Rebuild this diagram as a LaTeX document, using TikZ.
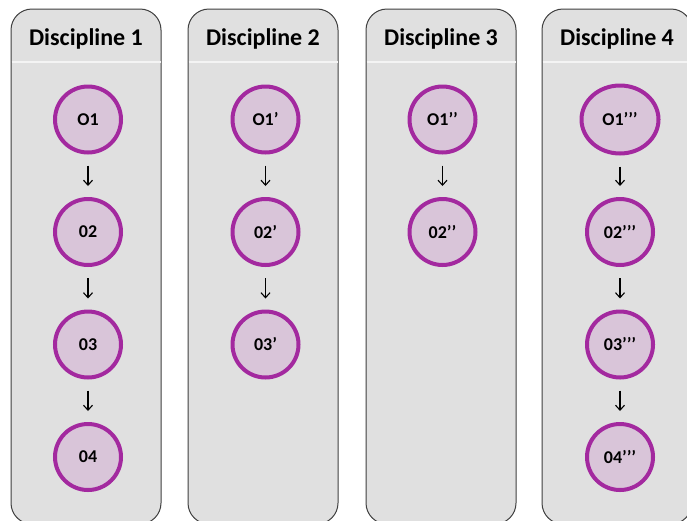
\documentclass[tikz,border=0pt]{standalone}
\usepackage{fontspec}
\setmainfont{Carlito}
\usetikzlibrary{arrows.meta,shapes.geometric}
\definecolor{boxfill}{HTML}{E0E0E0}
\definecolor{boxline}{HTML}{3F3F3F}
\definecolor{ringline}{HTML}{A3299F}
\definecolor{ringfill}{HTML}{D9C5D9}
\definecolor{sepline}{HTML}{F4F4F4}
\tikzset{
 lane/.style={fill=boxfill,draw=boxline,line width=1pt,rounded corners=21pt,minimum width=150pt,minimum height=515pt,inner sep=0pt},
 hdr/.style={font=\fontsize{24}{28}\selectfont\bfseries,anchor=base,inner sep=0pt},
 obj/.style={circle,draw=ringline,fill=ringfill,line width=4pt,minimum size=66pt,inner sep=0pt,font=\fontsize{18}{20}\selectfont\bfseries},
 objwide/.style={ellipse,draw=ringline,fill=ringfill,line width=4pt,minimum width=77pt,minimum height=68pt,inner sep=0pt,font=\fontsize{18}{20}\selectfont\bfseries},
 flow/.style={draw=black,line width=1.1pt,-{Straight Barb[length=5pt,width=9pt]},shorten <=11pt,shorten >=11pt},
 sep/.style={draw=sepline,line width=1.5pt}
}
\begin{document}
\begin{tikzpicture}[x=1pt,y=-1pt]
\useasboundingbox (0,0) rectangle (687,520);
\clip (0,0) rectangle (687,520);
% lanes
\node[lane] (L1) at (86,266.5) {};
\node[lane] (L2) at (263,266.5) {};
\node[lane] (L3) at (441,266.5) {};
\node[lane] (L4) at (617,266.5) {};
% header separators
\draw[sep] (11.5,62) -- (160.5,62);
\draw[sep] (188.5,62) -- (337.5,62);
\draw[sep] (366.5,62) -- (515.5,62);
\draw[sep] (542.5,62) -- (691.5,62);
% headers
\node[hdr] (H1) at (86,45) {Discipline 1};
\node[hdr] (H2) at (263,45) {Discipline 2};
\node[hdr] (H3) at (441,45) {Discipline 3};
\node[hdr] (H4) at (617,45) {Discipline 4};
% discipline 1
\node[obj] (a1) at (88,119.5) {O1};
\node[obj] (a2) at (88,232) {02};
\node[obj] (a3) at (88,344.5) {03};
\node[obj] (a4) at (88,457) {04};
% discipline 2
\node[obj] (b1) at (265.5,119.5) {O1’};
\node[obj] (b2) at (265.5,232) {02’};
\node[obj] (b3) at (265.5,344.5) {03’};
% discipline 3
\node[obj] (c1) at (442.5,119.5) {O1’’};
\node[obj] (c2) at (442.5,232) {02’’};
% discipline 4
\node[objwide] (d1) at (620,119.5) {O1’’’};
\node[obj] (d2) at (620,232) {02’’’};
\node[obj] (d3) at (620,344.5) {03’’’};
\node[obj] (d4) at (620,457) {04’’’};
% arrows
\draw[flow] (a1) -- (a2);
\draw[flow] (a2) -- (a3);
\draw[flow] (a3) -- (a4);
\draw[flow] (b1) -- (b2);
\draw[flow] (b2) -- (b3);
\draw[flow] (c1) -- (c2);
\draw[flow] (d1) -- (d2);
\draw[flow] (d2) -- (d3);
\draw[flow] (d3) -- (d4);
\end{tikzpicture}
\end{document}
